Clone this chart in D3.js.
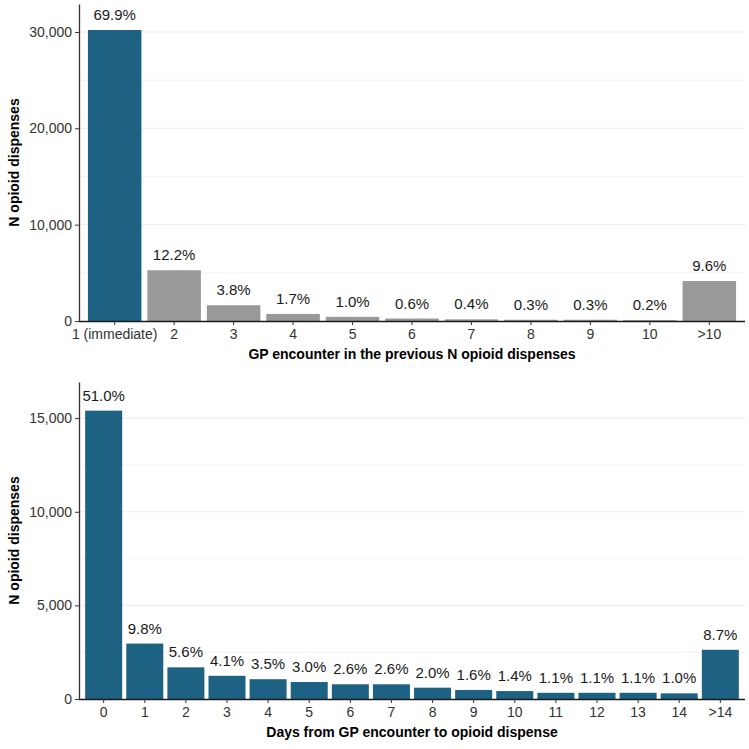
<!DOCTYPE html>
<html>
<head>
<meta charset="utf-8">
<script src="https://cdn.jsdelivr.net/npm/d3@7"></script>
<style>
  body { margin: 0; background: #fff; }
  svg { display: block; font-family: "Liberation Sans", Arial, sans-serif; }
</style>
</head>
<body>
<svg width="749" height="749"></svg>
<script>
// top panel: GP encounter in previous N dispenses
const topCats = ["1 (immediate)", "2", "3", "4", "5", "6", "7", "8", "9", "10", ">10"];
const topCounts = [30200, 5270, 1640, 734, 432, 259, 173, 130, 130, 86, 4147];
const topPct = ["69.9%", "12.2%", "3.8%", "1.7%", "1.0%", "0.6%", "0.4%", "0.3%", "0.3%", "0.2%", "9.6%"];
const topFill = ["#1d6282", "#999999", "#999999", "#999999", "#999999", "#999999", "#999999", "#999999", "#999999", "#999999", "#999999"];
const topTicks = [0, 10000, 20000, 30000];

// bottom panel: days from GP encounter
const botCats = ["0", "1", "2", "3", "4", "5", "6", "7", "8", "9", "10", "11", "12", "13", "14", ">14"];
const botCounts = [15400, 2960, 1690, 1238, 1057, 906, 785, 785, 604, 483, 423, 332, 332, 332, 302, 2627];
const botPct = ["51.0%", "9.8%", "5.6%", "4.1%", "3.5%", "3.0%", "2.6%", "2.6%", "2.0%", "1.6%", "1.4%", "1.1%", "1.1%", "1.1%", "1.0%", "8.7%"];
const botTicks = [0, 5000, 10000, 15000];

const svg = d3.select("svg");
const fmt = d3.format(",");

function panel(opts) {
  const { cats, counts, pct, fills, ticks, minor, ymax, top, bottom, xTitle, yTitle } = opts;
  const left = 79, right = 745;

  const x = d3.scaleBand()
    .domain(cats)
    .range([left, right])
    .paddingInner(0.1)
    .paddingOuter(0.15);

  const y = d3.scaleLinear()
    .domain([0, ymax])
    .range([bottom, top]);

  const g = svg.append("g");

  // grid
  g.selectAll(".grid")
    .data(minor)
    .join("line")
    .attr("x1", left).attr("x2", right)
    .attr("y1", d => y(d)).attr("y2", d => y(d))
    .attr("stroke", "#ebebeb")
    .attr("stroke-width", d => ticks.includes(d) ? 1 : 0.6);

  g.selectAll(".bar")
    .data(cats)
    .join("rect")
    .attr("x", d => x(d))
    .attr("width", x.bandwidth())
    .attr("y", (d, i) => y(counts[i]))
    .attr("height", (d, i) => y(0) - y(counts[i]))
    .attr("fill", (d, i) => fills[i]);

  g.selectAll(".lab")
    .data(cats)
    .join("text")
    .attr("x", d => x(d) + x.bandwidth() / 2)
    .attr("y", (d, i) => y(counts[i]) - 10)
    .attr("text-anchor", "middle")
    .attr("font-size", 15)
    .attr("fill", "#1a1a1a")
    .text((d, i) => pct[i]);

  const xAxis = g.append("g")
    .attr("transform", `translate(0,${bottom})`)
    .call(d3.axisBottom(x).tickSize(4).tickSizeOuter(0));
  xAxis.select(".domain").attr("stroke", "#1a1a1a").attr("stroke-width", 1.3)
    .attr("d", `M${left},0.5H${right}`);
  xAxis.selectAll(".tick line").attr("stroke", "#333");
  xAxis.selectAll(".tick text").attr("font-size", 14).attr("fill", "#333").attr("dy", "0.8em");

  const yAxis = g.append("g")
    .attr("transform", `translate(${left},0)`)
    .call(d3.axisLeft(y).tickValues(ticks).tickFormat(fmt).tickSize(4).tickSizeOuter(0));
  yAxis.select(".domain").attr("stroke", "#333").attr("stroke-width", 1.3);
  yAxis.selectAll(".tick line").attr("stroke", "#333");
  yAxis.selectAll(".tick text").attr("font-size", 14).attr("fill", "#333");

  g.append("text")
    .attr("x", (left + right) / 2)
    .attr("y", bottom + 38)
    .attr("text-anchor", "middle")
    .attr("font-size", 14)
    .attr("font-weight", "bold")
    .attr("fill", "#000")
    .text(xTitle);

  g.append("text")
    .attr("transform", `translate(19,${(top + bottom) / 2}) rotate(-90)`)
    .attr("text-anchor", "middle")
    .attr("font-size", 14)
    .attr("font-weight", "bold")
    .attr("fill", "#000")
    .text(yTitle);
}

panel({
  cats: topCats, counts: topCounts, pct: topPct, fills: topFill,
  ticks: topTicks, minor: [5000, 10000, 15000, 20000, 25000, 30000],
  ymax: 32900, top: 4, bottom: 321,
  xTitle: "GP encounter in the previous N opioid dispenses",
  yTitle: "N opioid dispenses"
});

panel({
  cats: botCats, counts: botCounts, pct: botPct, fills: botCats.map(() => "#1d6282"),
  ticks: botTicks, minor: [2500, 5000, 7500, 10000, 12500, 15000],
  ymax: 16930, top: 382, bottom: 699,
  xTitle: "Days from GP encounter to opioid dispense",
  yTitle: "N opioid dispenses"
});
</script>
</body>
</html>
